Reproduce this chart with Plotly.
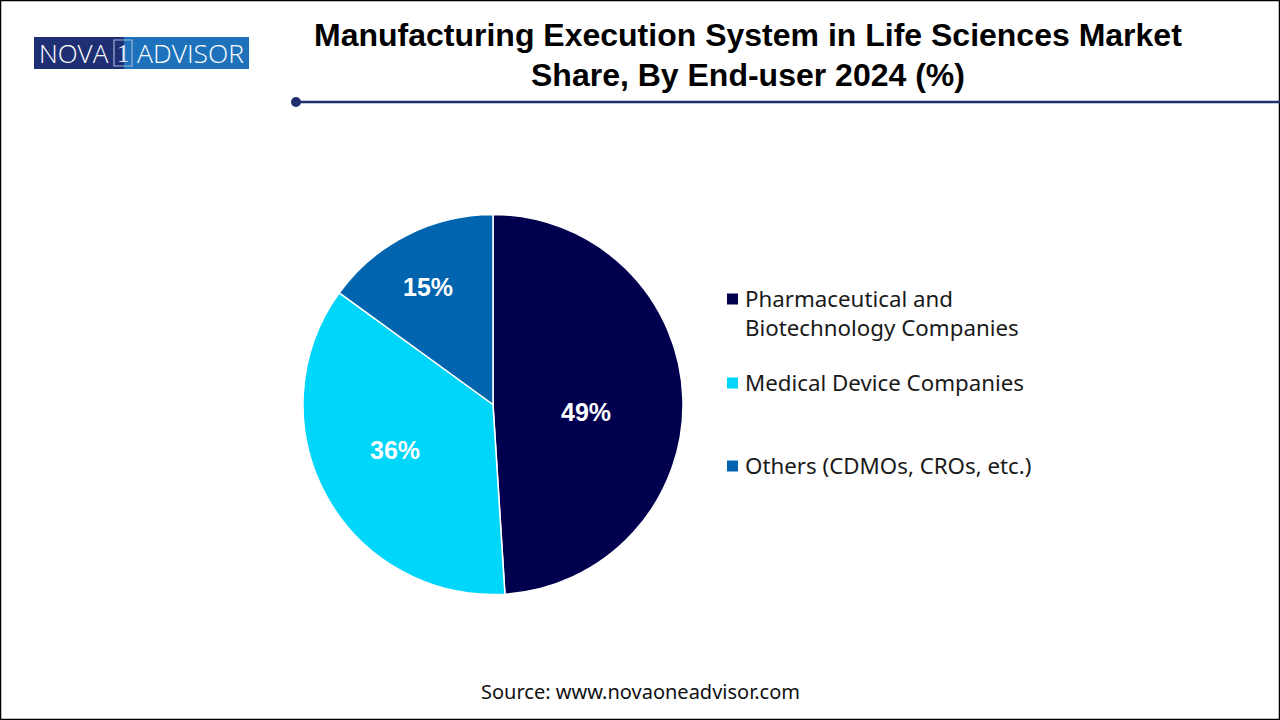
import plotly.graph_objects as go

TITLE_LINES = ["<b>Manufacturing Execution System in Life Sciences Market</b>", "<b>Share, By End-user 2024 (%)</b>"]
SOURCE = "Source: www.novaoneadvisor.com"
categories = ["Pharmaceutical and", "Biotechnology Companies"], ["Medical Device Companies"], ["Others (CDMOs, CROs, etc.)"]
values = [49, 36, 15]
colors = ["#00004F", "#00D5FA", "#0064AE"]
legend_y = [299, 383, 466]
label_xy = [(586, 412), (395, 450), (428, 287)]

W, H = 1280, 720
px = lambda x: x / W
py = lambda y: 1 - y / H

fig = go.Figure(go.Pie(
    labels=[" ".join(c) for c in categories], values=values, sort=False, direction="clockwise", rotation=0,
    marker=dict(colors=colors, line=dict(color="white", width=1.5)),
    textinfo="none",
    domain=dict(x=[px(303), px(683)], y=[py(594.5), py(214.5)]),
    showlegend=False, hoverinfo="label+percent",
))

shapes = [
    dict(type="rect", x0=0.5, y0=0.5, x1=W - 0.5, y1=H - 0.5, line=dict(color="black", width=1.5)),
    dict(type="rect", x0=34, y0=37, x1=124, y1=69, fillcolor="#1F2F74", line_width=0, layer="below"),
    dict(type="rect", x0=124, y0=37, x1=249, y1=69, fillcolor="#1E72BC", line_width=0, layer="below"),
    dict(type="rect", x0=114, y0=40, x1=132, y1=66, line=dict(color="#9DB4D8", width=1.2)),
    dict(type="line", x0=296, y0=102, x1=1280, y1=102, line=dict(color="#1F2F6E", width=2.5)),
    dict(type="circle", x0=291, y0=97, x1=301, y1=107, fillcolor="#1F2F6E", line_width=0),
]
annotations = [
    dict(x=748, y=35, text=TITLE_LINES[0], font=dict(family="Liberation Sans", size=32, color="black")),
    dict(x=748, y=75, text=TITLE_LINES[1], font=dict(family="Liberation Sans", size=32, color="black")),
    dict(x=640, y=691, text=SOURCE, font=dict(family="Noto Sans", size=20, color="#111111")),
    dict(x=73.5, y=53, text="NOVA", font=dict(family="Open Sans", size=26, color="white", weight=300)),
    dict(x=123, y=53, text="1", font=dict(family="Liberation Serif", size=25, color="#DCE6F5")),
    dict(x=190.5, y=53, text="ADVISOR", font=dict(family="Open Sans", size=26.5, color="white", weight=300)),
]
for v, (x, y) in zip(values, label_xy):
    annotations.append(dict(x=x, y=y, text=f"<b>{v}%</b>", font=dict(family="Liberation Sans", size=25, color="white")))
for cat, col, y in zip(categories, colors, legend_y):
    shapes.append(dict(type="rect", x0=727, y0=y - 5.5, x1=738, y1=y + 5.5, fillcolor=col, line_width=0))
    for i, line in enumerate(cat):
        annotations.append(dict(
            x=743, y=y - 1 + i * 29, xanchor="left", text=line,
            font=dict(family="Noto Sans", size=22.3, color="#1a1a1a"),
        ))
for a in annotations:
    a.update(xref="x", yref="y", showarrow=False)
    a.setdefault("xanchor", "center")
    a.setdefault("yanchor", "middle")
for s in shapes:
    s.update(xref="x", yref="y")

fig.update_layout(
    width=W, height=H, margin=dict(l=0, r=0, t=0, b=0), paper_bgcolor="white", plot_bgcolor="white",
    xaxis=dict(range=[0, W], visible=False, fixedrange=True),
    yaxis=dict(range=[H, 0], visible=False, fixedrange=True),
    shapes=shapes, annotations=annotations,
)
fig.write_html("out.html", post_script="document.body.style.margin='0';", config={"displayModeBar": False})
